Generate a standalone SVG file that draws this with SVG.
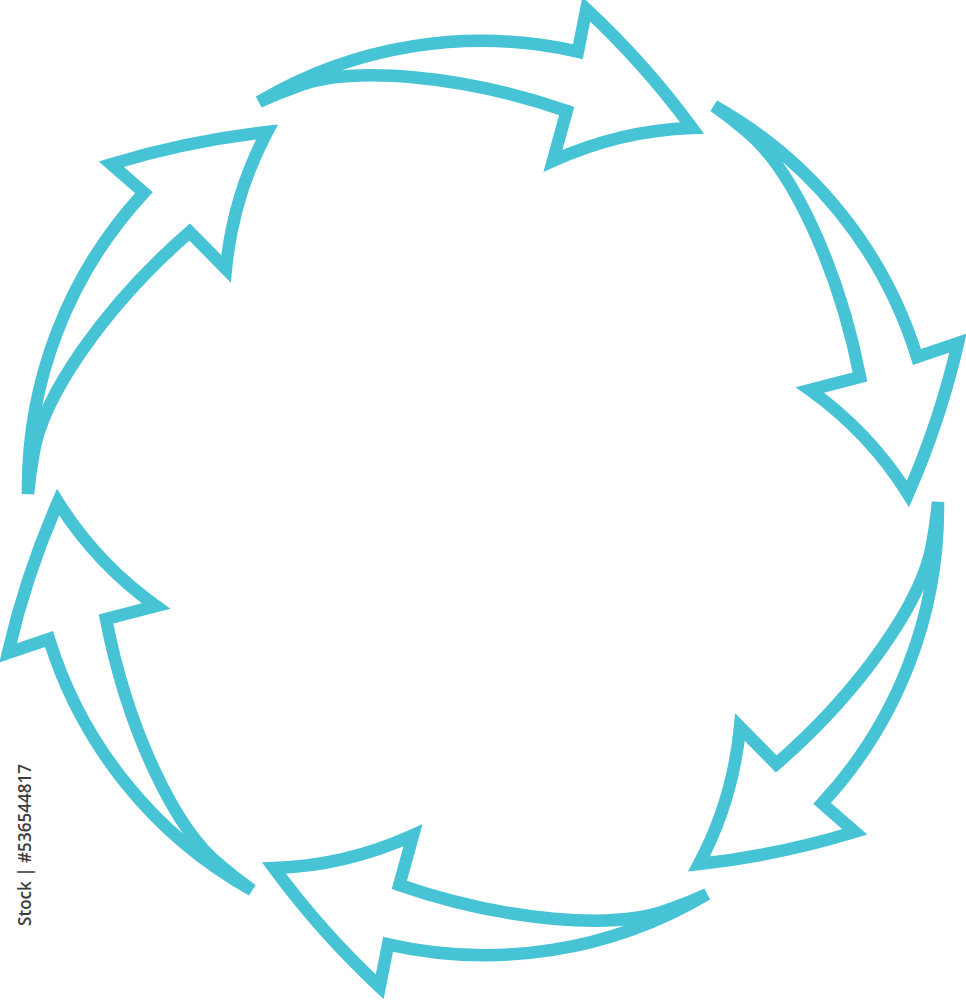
<svg xmlns="http://www.w3.org/2000/svg" width="966" height="1000" viewBox="0 0 966 1000">
<style>
.arrow{fill:#ffffff;stroke:#47C3D6;stroke-width:12.5;stroke-linejoin:miter;stroke-miterlimit:4}
.wm{font-family:"Open Sans","Liberation Sans",sans-serif;font-size:18px;font-weight:600;fill:#3d3d3d}
</style>
<defs>
<path id="arrowShape" class="arrow" d="M 231 -392 A 435 435 0 0 1 434 -141 L 475 -155 Q 457 -77 425 -4 Q 387 -65 327 -108 L 377 -121 C 356 -229 309 -331 262 -368 A 435 435 0 0 0 231 -392 Z"/>
</defs>
<rect width="966" height="1000" fill="#ffffff"/>
<g id="connectors" transform="translate(483 498)">
<g id="arrow-right-top"><use href="#arrowShape" transform="rotate(0)"/></g>
<g id="arrow-right-bottom"><use href="#arrowShape" transform="rotate(60)"/></g>
<g id="arrow-bottom"><use href="#arrowShape" transform="rotate(120)"/></g>
<g id="arrow-left-bottom"><use href="#arrowShape" transform="rotate(180)"/></g>
<g id="arrow-left-top"><use href="#arrowShape" transform="rotate(240)"/></g>
<g id="arrow-top"><use href="#arrowShape" transform="rotate(300)"/></g>
</g>
<text class="wm" transform="translate(31 926) rotate(-90)" x="0" y="0" textLength="162" lengthAdjust="spacingAndGlyphs">Stock | #536544817</text>
</svg>
